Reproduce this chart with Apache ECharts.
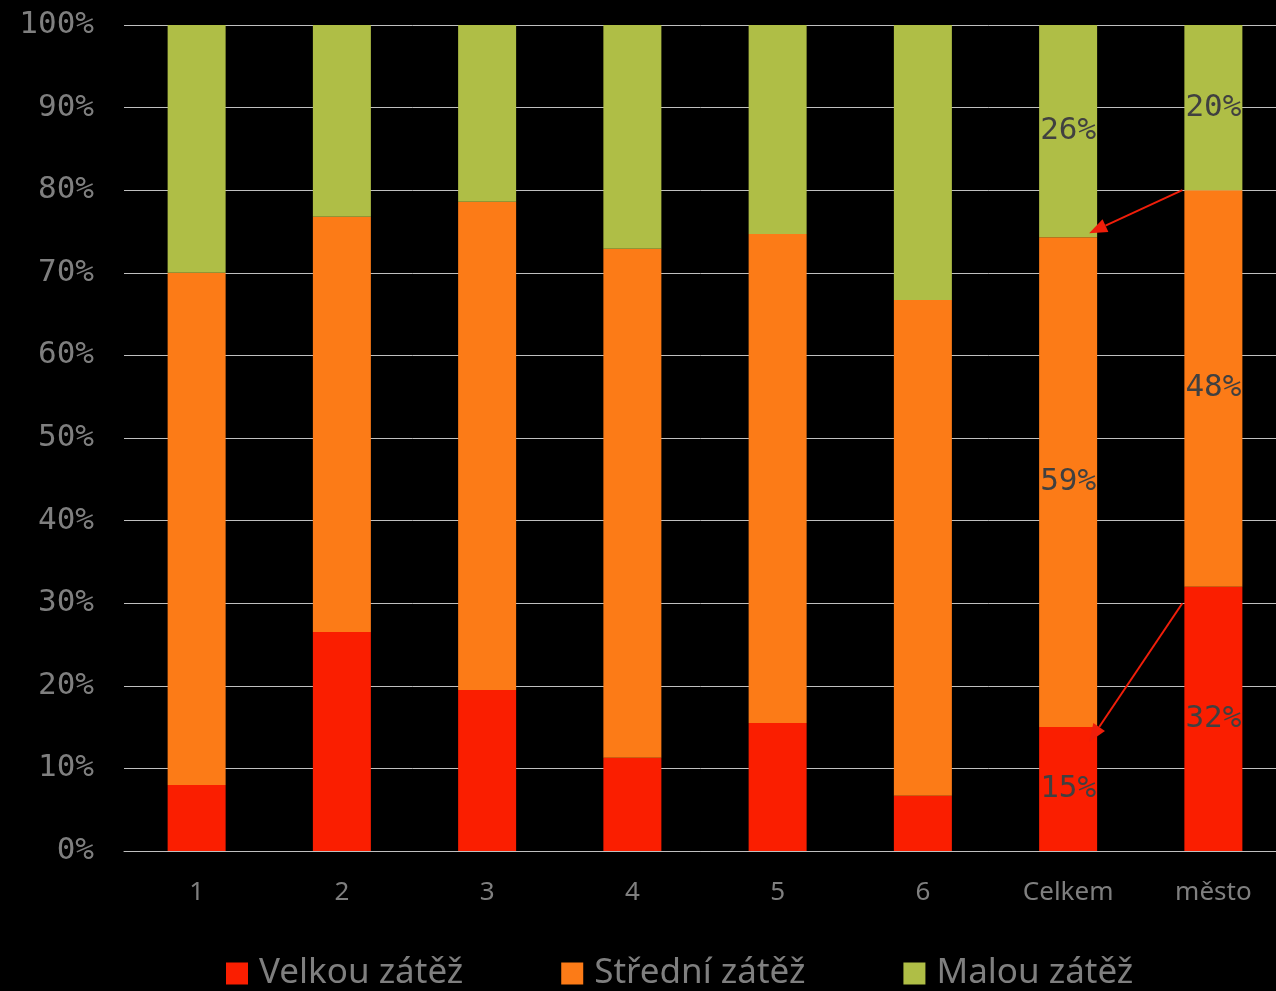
<!DOCTYPE html>
<html>
<head>
<meta charset="utf-8">
<script src="https://cdn.jsdelivr.net/npm/echarts@6/dist/echarts.min.js"></script>
<style>
  html, body { margin: 0; padding: 0; background: #000; }
  #main { width: 1276px; height: 991px; }
</style>
</head>
<body>
<div id="main"></div>
<script>
  // kategorie a hodnoty (v %)
  var categories = ['1', '2', '3', '4', '5', '6', 'Celkem', 'město'];
  var velkou = [8, 26.5, 19.5, 11.3, 15.5, 6.7, 15, 32];
  var stredni = [62, 50.3, 59.1, 61.6, 59.2, 60, 59.3, 48];
  var malou = [30, 23.2, 21.4, 27.1, 25.3, 33.3, 25.7, 20];
  var seriesNames = ['Velkou zátěž', 'Střední zátěž', 'Malou zátěž'];
  var labeledBars = ['Celkem', 'město'];
  // šipky: z města na Celkem
  var arrows = [
    { from: ['město', 80], to: ['Celkem', 74.8] },
    { from: ['město', 30], to: ['Celkem', 13.2] }
  ];

  var colors = ['#fa1e00', '#fc7b17', '#afbe46'];
  var barWidth = 58;

  function makeSeries(name, data, color) {
    return {
      name: name,
      type: 'bar',
      stack: 'total',
      barWidth: barWidth,
      data: data,
      itemStyle: { color: color },
      label: {
        show: true,
        position: 'inside',
        color: '#404040',
        fontFamily: 'DejaVu Sans Mono',
        fontSize: 31,
        formatter: function (p) {
          return labeledBars.indexOf(p.name) >= 0 ? Math.round(p.value) + '%' : '';
        }
      }
    };
  }

  var chart = echarts.init(document.getElementById('main'));
  chart.setOption({
    backgroundColor: '#000',
    animation: false,
    grid: { left: 124, top: 25, bottom: 140, width: 1162, outerBoundsMode: 'none' },
    legend: {
      top: 951,
      left: 221,
      itemWidth: 22,
      itemHeight: 22,
      itemGap: 98,
      icon: 'rect',
      data: seriesNames,
      textStyle: { color: '#7f7f7f', fontSize: 35, fontFamily: 'Noto Sans', padding: [0, 0, 0, 6] }
    },
    xAxis: {
      type: 'category',
      data: categories,
      axisTick: { show: false },
      axisLine: { lineStyle: { color: '#bfbfbf', width: 1 } },
      axisLabel: { color: '#7f7f7f', fontSize: 26, fontFamily: 'Noto Sans', margin: 29 }
    },
    yAxis: {
      type: 'value',
      min: 0,
      max: 100,
      interval: 10,
      axisLine: { show: false },
      axisTick: { show: false },
      splitLine: { lineStyle: { color: '#bfbfbf', width: 1 } },
      axisLabel: {
        color: '#7f7f7f', fontSize: 31, fontFamily: 'DejaVu Sans Mono', margin: 30,
        formatter: '{value}%'
      }
    },
    series: [
      makeSeries(seriesNames[0], velkou, colors[0]),
      makeSeries(seriesNames[1], stredni, colors[1]),
      makeSeries(seriesNames[2], malou, colors[2])
    ]
  });

  // šipky mezi sloupci
  var graphics = [];
  arrows.forEach(function (a) {
    var p1 = chart.convertToPixel({ xAxisIndex: 0, yAxisIndex: 0 }, a.from);
    var p2 = chart.convertToPixel({ xAxisIndex: 0, yAxisIndex: 0 }, a.to);
    var x1 = p1[0] - barWidth / 2 - 2, y1 = p1[1];
    var x2 = p2[0] + barWidth / 2 - 8, y2 = p2[1];
    var ang = Math.atan2(y2 - y1, x2 - x1);
    var len = 18, half = 7;
    var bx = x2 - len * Math.cos(ang), by = y2 - len * Math.sin(ang);
    graphics.push({
      type: 'line',
      shape: { x1: x1, y1: y1, x2: bx, y2: by },
      style: { stroke: '#f01e0a', lineWidth: 2 },
      z: 100
    });
    graphics.push({
      type: 'polygon',
      shape: {
        points: [
          [x2, y2],
          [bx + half * Math.sin(ang), by - half * Math.cos(ang)],
          [bx - half * Math.sin(ang), by + half * Math.cos(ang)]
        ]
      },
      style: { fill: '#f01e0a' },
      z: 100
    });
  });
  chart.setOption({ graphic: graphics });
</script>
</body>
</html>
